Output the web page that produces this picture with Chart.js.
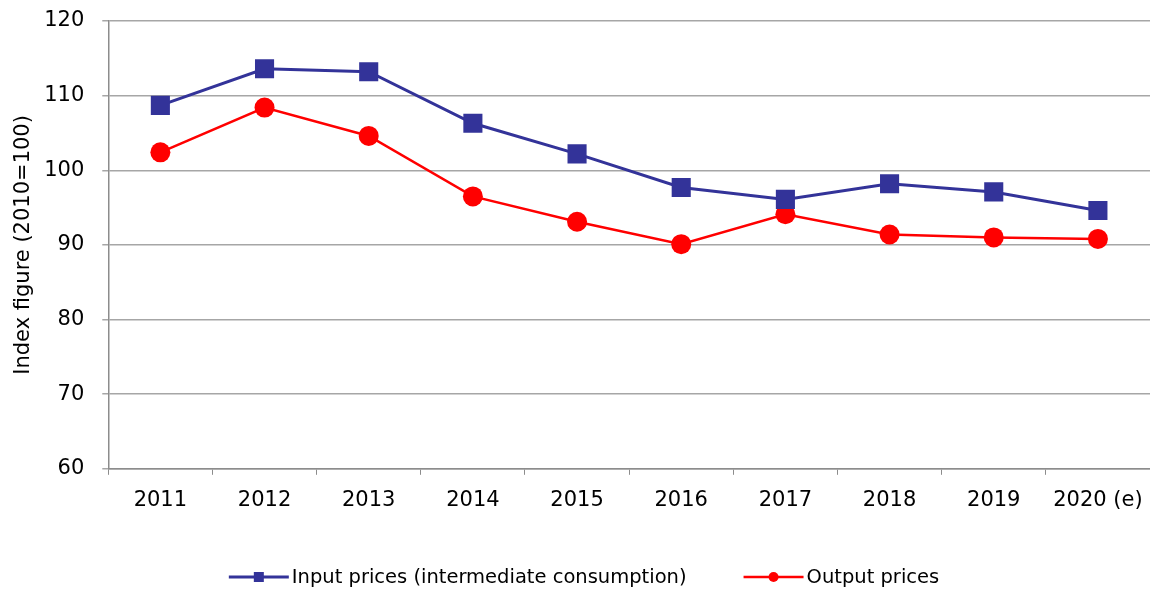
<!DOCTYPE html>
<html>
<head>
<meta charset="utf-8">
<script src="https://cdn.jsdelivr.net/npm/chart.js@4/dist/chart.umd.min.js"></script>
<style>
  html, body { margin: 0; padding: 0; background: #fff; overflow: hidden; }
  #wrap { width: 1150px; height: 590px; }
  canvas { display: block; }
</style>
</head>
<body>
<div id="wrap"><canvas id="myChart"></canvas></div>
<script>
const years = ["2011", "2012", "2013", "2014", "2015", "2016", "2017", "2018", "2019", "2020 (e)"];
const inputPrices = [108.7, 113.6, 113.2, 106.3, 102.2, 97.7, 96.1, 98.2, 97.1, 94.6];
const outputPrices = [102.4, 108.4, 104.6, 96.5, 93.1, 90.1, 94.1, 91.4, 91.0, 90.8];
const seriesNames = ["Input prices (intermediate consumption)", "Output prices"];

const BLUE = "#333399";
const RED = "#ff0000";
const FONT = "'DejaVu Sans', Verdana, sans-serif";

// Legend drawn by hand: line with marker in the middle, like the original
const bottomLegend = {
  id: "bottomLegend",
  afterDraw(chart) {
    const ctx = chart.ctx;
    const y = 577;
    const lineW = 60;
    const gap = 3;
    const itemGap = 57;
    ctx.save();
    ctx.font = "19.5px " + FONT;
    const widths = seriesNames.map((n) => lineW + gap + ctx.measureText(n).width);
    const total = widths[0] + itemGap + widths[1];
    let x = 584 - total / 2;
    const styles = [
      { color: BLUE, lw: 3, shape: "rect" },
      { color: RED, lw: 2.5, shape: "circle" },
    ];
    seriesNames.forEach((name, i) => {
      const s = styles[i];
      ctx.strokeStyle = s.color;
      ctx.lineWidth = s.lw;
      ctx.beginPath();
      ctx.moveTo(x, y);
      ctx.lineTo(x + lineW, y);
      ctx.stroke();
      ctx.fillStyle = s.color;
      const cx = x + lineW / 2;
      if (s.shape === "rect") {
        ctx.fillRect(cx - 5, y - 5, 10, 10);
      } else {
        ctx.beginPath();
        ctx.arc(cx, y, 5, 0, Math.PI * 2);
        ctx.fill();
      }
      ctx.fillStyle = "#000";
      ctx.textBaseline = "middle";
      ctx.textAlign = "left";
      ctx.fillText(name, x + lineW + gap, y + 1);
      x += widths[i] + itemGap;
    });
    ctx.restore();
  },
};

const ctx = document.getElementById("myChart").getContext("2d");
new Chart(ctx, {
  type: "line",
  data: {
    labels: years,
    datasets: [
      {
        label: seriesNames[0],
        data: inputPrices,
        borderColor: BLUE,
        backgroundColor: BLUE,
        borderWidth: 3,
        pointStyle: "rect",
        pointRadius: 13.5,
        pointBorderWidth: 0,
        tension: 0,
      },
      {
        label: seriesNames[1],
        data: outputPrices,
        borderColor: RED,
        backgroundColor: RED,
        borderWidth: 2.5,
        pointStyle: "circle",
        pointRadius: 10,
        pointBorderWidth: 0,
        tension: 0,
      },
    ],
  },
  options: {
    responsive: true,
    maintainAspectRatio: false,
    animation: false,
    layout: {
      autoPadding: false,
      padding: { top: 21, right: 0, bottom: 64, left: 11 },
    },
    plugins: {
      legend: { display: false },
      tooltip: { enabled: false },
    },
    scales: {
      x: {
        offset: true,
        afterFit: (scale) => {
          scale.paddingRight = 0;
          scale.paddingLeft = 0;
        },
        grid: {
          offset: true,
          drawOnChartArea: false,
          drawTicks: true,
          tickLength: 6,
          color: "#8c8c8c",
        },
        border: { color: "#8c8c8c", width: 1.5 },
        ticks: {
          color: "#000",
          font: { family: FONT, size: 21 },
          padding: 13,
          maxRotation: 0,
        },
      },
      y: {
        min: 60,
        max: 120,
        afterFit: (scale) => {
          scale.paddingTop = 0;
          scale.paddingBottom = 0;
        },
        ticks: {
          stepSize: 10,
          color: "#000",
          font: { family: FONT, size: 21 },
          padding: 18,
        },
        grid: {
          color: "#a6a6a6",
          lineWidth: 1.5,
          tickLength: 6,
        },
        border: { color: "#8c8c8c", width: 1.5 },
        title: {
          display: true,
          text: "Index figure (2010=100)",
          color: "#000",
          font: { family: FONT, size: 21 },
          padding: { top: 0, bottom: -10 },
        },
      },
    },
  },
  plugins: [bottomLegend],
});
</script>
</body>
</html>
